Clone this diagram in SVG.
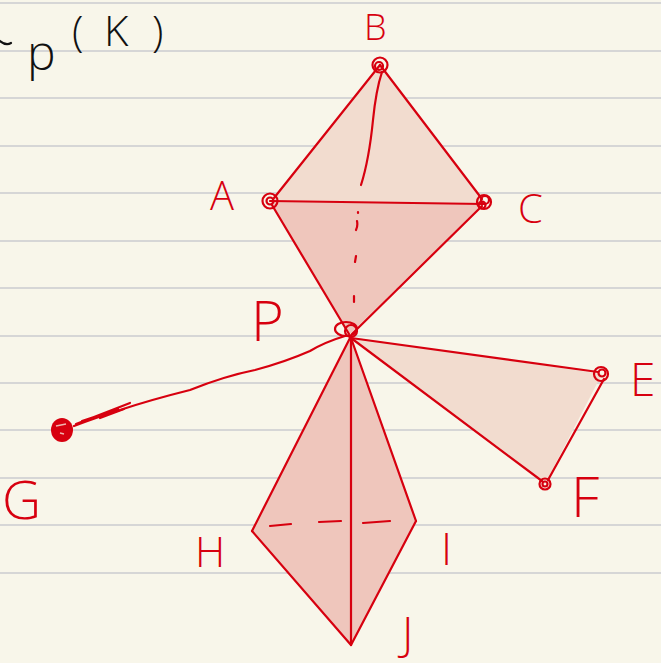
<svg xmlns="http://www.w3.org/2000/svg" width="661" height="663" viewBox="0 0 661 663">
<defs>
<style>
.rule{stroke:#d6d6d6;stroke-width:2}
.edge{stroke:#d7000f;stroke-width:2.2;fill:none;stroke-linecap:round;stroke-linejoin:round}
.ring{stroke:#d7000f;stroke-width:2.2;fill:none}
.light{fill:#f2dccf}
.dark{fill:#efc6bc}
.lbl{fill:#d7000f;font-family:"Open Sans","Liberation Sans",sans-serif;font-weight:300}
.ink{fill:#111;font-family:"Open Sans","Liberation Sans",sans-serif;font-weight:300}
</style>
</defs>
<rect width="661" height="663" fill="#f8f6ea"/>
<g id="rules">
<line class="rule" x1="0" y1="3" x2="661" y2="3"/>
<line class="rule" x1="0" y1="51" x2="661" y2="51"/>
<line class="rule" x1="0" y1="98" x2="661" y2="98"/>
<line class="rule" x1="0" y1="146" x2="661" y2="146"/>
<line class="rule" x1="0" y1="193" x2="661" y2="193"/>
<line class="rule" x1="0" y1="241" x2="661" y2="241"/>
<line class="rule" x1="0" y1="288" x2="661" y2="288"/>
<line class="rule" x1="0" y1="336" x2="661" y2="336"/>
<line class="rule" x1="0" y1="383" x2="661" y2="383"/>
<line class="rule" x1="0" y1="430" x2="661" y2="430"/>
<line class="rule" x1="0" y1="478" x2="661" y2="478"/>
<line class="rule" x1="0" y1="525" x2="661" y2="525"/>
<line class="rule" x1="0" y1="573" x2="661" y2="573"/>
</g>
<g id="title">
<path d="M0,41 Q6,46 11,43" stroke="#111" stroke-width="2.2" fill="none" stroke-linecap="round"/>
<text class="ink" x="27" y="70" font-size="48">p</text>
<text class="ink" x="72 104 152" y="46" font-size="42">(K)</text>
</g>
<g id="faces">
<polygon class="light" points="380,65 270,201 484,203"/>
<polygon class="dark" points="270,201 484,203 350,334"/>
<polygon class="light" points="350,337 602,374 545,484"/>
<polygon class="dark" points="351,337 252,531 351,645 416,521"/>
</g>
<g id="connectors">
<line class="edge" x1="380" y1="65" x2="274" y2="198"/>
<line class="edge" x1="380" y1="65" x2="482" y2="199"/>
<line class="edge" x1="270" y1="201" x2="484" y2="204"/>
<line class="edge" x1="272" y1="205" x2="349" y2="334"/>
<line class="edge" x1="482" y1="206" x2="352" y2="334"/>
<path class="edge" d="M382,72 Q376,90 373,120 Q369,160 361,185"/>
<path class="edge" d="M358,212 L358,213 M357,221 Q358,226 356,230 M356,256 L355,262 M354,296 L354,302"/>
<line class="edge" x1="351" y1="338" x2="598" y2="372"/>
<line class="edge" x1="351" y1="338" x2="542" y2="481"/>
<line class="edge" x1="604" y1="379" x2="548" y2="480"/>
<line class="edge" x1="350" y1="338" x2="252" y2="531"/>
<line class="edge" x1="351" y1="338" x2="416" y2="521"/>
<line class="edge" x1="351" y1="338" x2="351" y2="645"/>
<line class="edge" x1="252" y1="531" x2="351" y2="645"/>
<line class="edge" x1="416" y1="521" x2="351" y2="645"/>
<path class="edge" d="M270,526 L291,524 M319,522 L341,521 M363,523 L390,521"/>
<path class="edge" d="M345,336 Q325,342 310,351 Q285,362 255,370 Q225,376 190,390 Q150,400 120,410 Q95,418 74,426"/>
<path class="edge" d="M76,424 L130,403 M82,421 L118,409 L100,418 L124,409"/>
</g>
<g id="node-B">
<circle class="ring" cx="380" cy="65" r="7.5"/>
<circle class="ring" cx="379" cy="66" r="4"/>
<text class="lbl" x="364" y="40" font-size="36">B</text>
</g>
<g id="node-A">
<circle class="ring" cx="270" cy="201" r="7.5"/>
<circle class="ring" cx="270" cy="201" r="3.5"/>
<text class="lbl" x="210" y="210" font-size="40">A</text>
</g>
<g id="node-C">
<circle class="ring" cx="484" cy="202" r="7"/>
<circle class="ring" cx="485" cy="200" r="4"/>
<circle class="ring" cx="482" cy="205" r="3.5"/>
<text class="lbl" x="518" y="223" font-size="40">C</text>
</g>
<g id="node-P">
<ellipse class="ring" cx="346" cy="329" rx="11" ry="7"/>
<circle class="ring" cx="351" cy="331" r="6"/>
<text class="lbl" x="251" y="341" font-size="56">P</text>
</g>
<g id="node-E">
<circle class="ring" cx="601" cy="374" r="7"/>
<circle class="ring" cx="602" cy="373" r="3.5"/>
<text class="lbl" x="630" y="396" font-size="46">E</text>
</g>
<g id="node-F">
<circle class="ring" cx="545" cy="484" r="5.5"/>
<circle class="ring" cx="545" cy="484" r="2.5"/>
<text class="lbl" x="571" y="517" font-size="56">F</text>
</g>
<g id="node-G">
<ellipse cx="62" cy="430" rx="11" ry="12" fill="#d7000f"/>
<path d="M56,426 L66,424 M60,433 L64,434" stroke="#f0b4ae" stroke-width="1.5"/>
<text class="lbl" x="2" y="519" font-size="54">G</text>
</g>
<g id="node-H">
<text class="lbl" x="195" y="567" font-size="42">H</text>
</g>
<g id="node-I">
<text class="lbl" x="441" y="565" font-size="44">I</text>
</g>
<g id="node-J">
<text class="lbl" x="402" y="650" font-size="46">J</text>
</g>
</svg>
